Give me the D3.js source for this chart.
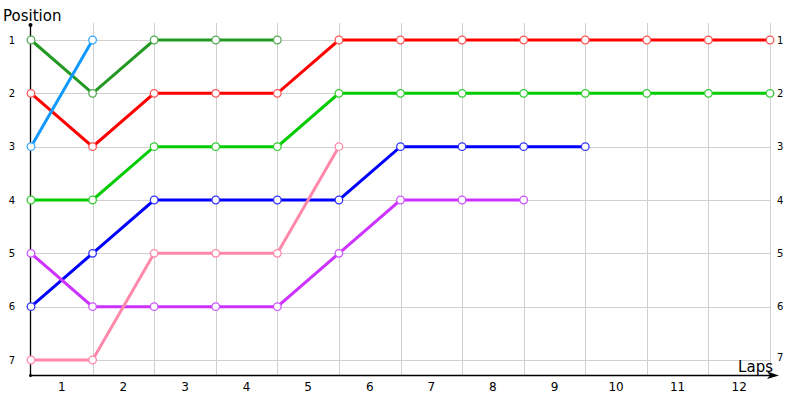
<!DOCTYPE html>
<html>
<head>
<meta charset="utf-8">
<script src="https://d3js.org/d3.v7.min.js"></script>
<style>
  body { margin: 0; background: #fff; }
  text { font-family: "DejaVu Sans", sans-serif; }
</style>
</head>
<body>
<div id="chart"></div>
<script>
// lap labels (drawn between the grid lines) and positions
var laps = [1, 2, 3, 4, 5, 6, 7, 8, 9, 10, 11, 12];
var positions = [1, 2, 3, 4, 5, 6, 7];

// position after each lap boundary (index 0 = start)
var darkGreen = [1, 2, 1, 1, 1];
var red = [2, 3, 2, 2, 2, 1, 1, 1, 1, 1, 1, 1, 1];
var lightBlue = [3, 1];
var green = [4, 4, 3, 3, 3, 2, 2, 2, 2, 2, 2, 2, 2];
var blue = [6, 5, 4, 4, 4, 4, 3, 3, 3, 3];
var purple = [5, 6, 6, 6, 6, 5, 4, 4, 4];
var pink = [7, 7, 5, 5, 5, 3];

var series = [
  { values: darkGreen, line: "#229922", mark: "#55aa55" },
  { values: red, line: "#ff0000", mark: "#ff5555" },
  { values: lightBlue, line: "#1199ff", mark: "#3aa8ff" },
  { values: green, line: "#00cc00", mark: "#33cc33" },
  { values: blue, line: "#0000ff", mark: "#3333ff" },
  { values: purple, line: "#cc33ff", mark: "#cc55ff" },
  { values: pink, line: "#ff88aa", mark: "#ff88aa" }
];

var width = 800, height = 400;

var svg = d3.select("#chart").append("svg")
  .attr("width", width)
  .attr("height", height);

var x = d3.scaleLinear().domain([0, laps.length]).range([31, 770]);
var y = d3.scaleLinear().domain([1, 7]).range([40, 360]);

// grid
var grid = svg.append("g").attr("stroke", "#d0d0d0").attr("stroke-width", 1);
grid.selectAll(".vg")
  .data(d3.range(1, laps.length + 1))
  .enter().append("line")
  .attr("x1", function(d) { return Math.round(x(d)) + 0.5; })
  .attr("x2", function(d) { return Math.round(x(d)) + 0.5; })
  .attr("y1", 23)
  .attr("y2", 375);
grid.selectAll(".hg")
  .data(positions)
  .enter().append("line")
  .attr("x1", 31)
  .attr("x2", x(laps.length))
  .attr("y1", function(d) { return Math.round(y(d)) + 0.5; })
  .attr("y2", function(d) { return Math.round(y(d)) + 0.5; });

// axes
svg.append("line")
  .attr("x1", 30.5).attr("x2", 30.5)
  .attr("y1", 25).attr("y2", 375.5)
  .attr("stroke", "#000").attr("stroke-width", 1.3);
svg.append("circle").attr("cx", 30.5).attr("cy", 25).attr("r", 2).attr("fill", "#000");
svg.append("circle").attr("cx", 30.5).attr("cy", 375.5).attr("r", 1.5).attr("fill", "#000");
svg.append("line")
  .attr("x1", 30).attr("x2", 772)
  .attr("y1", 375.5).attr("y2", 375.5)
  .attr("stroke", "#000").attr("stroke-width", 1.3);
svg.append("path")
  .attr("d", "M779,375.5 L767,371.5 L770,375.5 L767,379 Z")
  .attr("fill", "#000");

// tick labels
svg.selectAll(".yl")
  .data(positions)
  .enter().append("text")
  .attr("x", 15)
  .attr("y", function(d) { return y(d); })
  .attr("dy", "0.35em")
  .attr("text-anchor", "end")
  .attr("font-size", 10)
  .text(function(d) { return d; });
svg.selectAll(".yr")
  .data(positions)
  .enter().append("text")
  .attr("x", 777)
  .attr("y", function(d) { return d === 7 ? y(d) - 3 : y(d); })
  .attr("dy", "0.35em")
  .attr("font-size", 10)
  .text(function(d) { return d; });
svg.selectAll(".xl")
  .data(laps)
  .enter().append("text")
  .attr("x", function(d) { return (x(d - 1) + x(d)) / 2; })
  .attr("y", 391)
  .attr("text-anchor", "middle")
  .attr("font-size", 12)
  .text(function(d) { return d; });

svg.append("text").attr("x", 3).attr("y", 21).attr("font-size", 15).text("Position");
svg.append("text").attr("x", 773).attr("y", 372).attr("font-size", 15)
  .attr("text-anchor", "end").text("Laps");

// lines
var line = d3.line()
  .x(function(d, i) { return x(i); })
  .y(function(d) { return y(d); });

series.forEach(function(s) {
  svg.append("path")
    .datum(s.values)
    .attr("d", line)
    .attr("fill", "none")
    .attr("stroke", s.line)
    .attr("stroke-width", 3);
  svg.selectAll(null)
    .data(s.values)
    .enter().append("circle")
    .attr("cx", function(d, i) { return x(i); })
    .attr("cy", function(d) { return y(d); })
    .attr("r", 3.8)
    .attr("fill", "#fff")
    .attr("stroke", s.mark)
    .attr("stroke-width", 1.3);
});
</script>
</body>
</html>
